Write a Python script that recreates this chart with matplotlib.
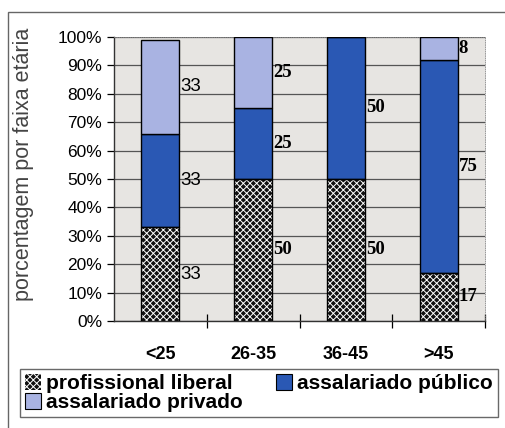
import matplotlib.pyplot as plt
from matplotlib.patches import Rectangle, Patch
import numpy as np

faixas = ["<25", "26-35", "36-45", ">45"]
liberal = [33, 50, 50, 17]
publico = [33, 25, 50, 75]
privado = [33, 25, 0, 8]

cor_publico = "#2a58b4"
cor_privado = "#a9b3e2"

plt.rcParams["hatch.linewidth"] = 0.7

fig = plt.figure(figsize=(5.05, 4.28), dpi=100)
ax = fig.add_axes([114 / 505, 1 - 321 / 428, 371 / 505, 284 / 428])
ax.set_facecolor("#e7e5e2")

x = np.arange(len(faixas))
w = 0.41

# checkered bottom segment: dark fill with white hatch, outline drawn on top
ax.bar(x, liberal, w, color="#111111", edgecolor="white", hatch="xxxxx", linewidth=0, zorder=3)
ax.bar(x, liberal, w, fill=False, edgecolor="black", linewidth=1, zorder=4)
base = np.array(liberal)
ax.bar(x, publico, w, bottom=base, color=cor_publico, edgecolor="black", linewidth=1, zorder=3)
base = base + np.array(publico)
ax.bar(x, privado, w, bottom=base, color=cor_privado, edgecolor="black", linewidth=1, zorder=3)

# value labels to the right of each segment
for i in range(len(faixas)):
    fam = "Liberation Sans" if i == 0 else "Liberation Serif"
    wt = "normal" if i == 0 else "bold"
    b = 0
    for vals in (liberal, publico, privado):
        v = vals[i]
        if v > 0:
            ax.text(x[i] + w / 2 + 0.01, b + v / 2, str(v), fontsize=13.5, family=fam,
                    weight=wt, va="center", ha="left", zorder=5)
        b += v

ax.set_xlim(-0.5, 3.5)
ax.set_ylim(0, 100)
ax.set_yticks(range(0, 101, 10))
ax.set_yticklabels([f"{v}%" for v in range(0, 101, 10)], family="Liberation Sans", fontsize=12.5)
ax.yaxis.grid(True, color="#555555", linewidth=0.9, zorder=1)
ax.set_axisbelow(True)

ax.set_xticks([0.5, 1.5, 2.5, 3.5], minor=False)
ax.set_xticklabels([])
ax.set_xticks(x, minor=True)
ax.set_xticklabels(faixas, minor=True, family="Liberation Sans", weight="bold", fontsize=13)
ax.tick_params(axis="x", which="major", direction="inout", length=10, width=0.9)
ax.tick_params(axis="x", which="minor", length=0, pad=18)
ax.tick_params(axis="y", direction="out", length=5, width=0.9)

for s in ["top", "right"]:
    ax.spines[s].set_color("#888888")
    ax.spines[s].set_linestyle(":")
    ax.spines[s].set_linewidth(0.6)
for s in ["left", "bottom"]:
    ax.spines[s].set_color("#333333")
    ax.spines[s].set_linewidth(1)

ax.set_ylabel("porcentagem por faixa etária", family="Liberation Sans", fontsize=15.5,
              color="#444444")
ax.yaxis.set_label_coords(-0.215, 0.55)

# outer frame
fig.patches.append(Rectangle((8 / 505, -0.01), 1.0, 1 - 12 / 428 + 0.01, transform=fig.transFigure,
                             fill=False, edgecolor="#666666", linewidth=1))

handles = [
    Patch(facecolor="#111111", edgecolor="white", hatch="xxxxx", linewidth=0),
    Patch(facecolor=cor_privado, edgecolor="black", linewidth=0.8),
    Patch(facecolor=cor_publico, edgecolor="black", linewidth=0.8),
]
labels = ["profissional liberal", "assalariado privado", "assalariado público"]
leg = fig.legend(handles, labels, ncol=2, loc="upper left",
                 bbox_to_anchor=(20 / 505, 1 - 423 / 428, 478 / 505, 54 / 428), mode="expand",
                 prop={"family": "Liberation Sans", "weight": "bold", "size": 15},
                 frameon=True, fancybox=False, edgecolor="#444444", handlelength=0.75,
                 handleheight=0.75, handletextpad=0.25, columnspacing=1.0, labelspacing=0.0,
                 borderpad=0.25, borderaxespad=0)
leg.get_frame().set_linewidth(1)

fig.savefig("out.png", dpi=100)
